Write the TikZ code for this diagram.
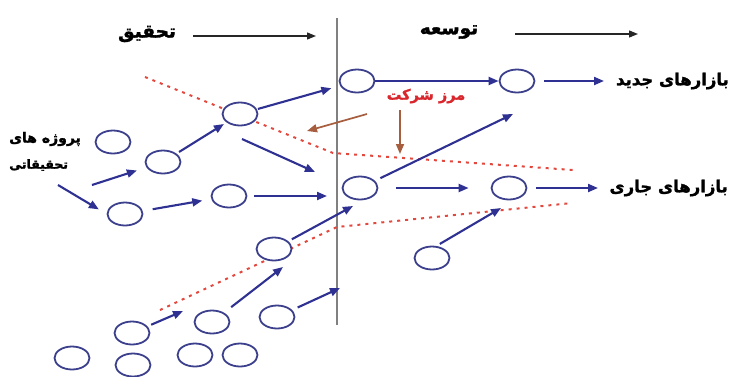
\documentclass[tikz,border=0pt]{standalone}
\usepackage{fontspec}
\TeXXeTstate=1
\newfontfamily\fa[Script=Arabic,FakeBold=1.6]{DejaVu Sans Bold}
\usetikzlibrary{arrows.meta,shapes.geometric}
\definecolor{navy}{HTML}{2E3192}
\definecolor{ringc}{HTML}{3B3F8C}
\definecolor{dotred}{HTML}{E2483E}
\definecolor{marzred}{HTML}{D8282E}
\definecolor{brownc}{HTML}{A65E3E}
\definecolor{axisgray}{HTML}{808080}
\tikzset{
  blob/.style={draw=ringc, line width=1.8pt, ellipse, minimum width=35pt, minimum height=23pt, inner sep=0pt, fill=white},
  barrow/.style={draw=navy, line width=2.1pt, -{Triangle[length=10pt,width=8pt]}},
  brarrow/.style={draw=brownc, line width=1.7pt, -{Triangle[length=10pt,width=8pt]}},
  harrow/.style={draw=black!85, line width=1.3pt, -{Triangle[length=9pt,width=7pt]}},
  bound/.style={draw=dotred, line width=2pt, dash pattern=on 3pt off 5pt},
  lbl/.style={font=\fa\fontsize{16.5}{18}\selectfont, inner sep=0pt, text=black},
  ttl/.style={font=\fa\fontsize{18.5}{20}\selectfont, inner sep=0pt, text=black},
}
\begin{document}
\begin{tikzpicture}[x=1pt,y=-1pt]
\useasboundingbox (0,0) rectangle (730,376);
% vertical divider
\coordinate (vtop) at (337,18);
\coordinate (vbot) at (337,325);
\draw[draw=axisgray, line width=1.6pt] (vtop) -- (vbot);

% red dotted boundaries
\draw[bound] (145,77) -- (333,153) -- (573,170);
\draw[bound] (160,310) -- (337,227) -- (572,203);

% circles
\node[blob] (C1) at (113,142) {};
\node[blob] (C2) at (163,162) {};
\node[blob] (C3) at (240,114) {};
\node[blob] (C4) at (125,214) {};
\node[blob] (C5) at (229,196) {};
\node[blob] (C6) at (357,81) {};
\node[blob] (C7) at (517,81) {};
\node[blob] (C8) at (360,188) {};
\node[blob] (C9) at (509,188) {};
\node[blob] (C10) at (274,249) {};
\node[blob] (C11) at (432,258) {};
\node[blob] (C12) at (132,333) {};
\node[blob] (C13) at (212,322) {};
\node[blob] (C14) at (277,317) {};
\node[blob] (C15) at (72,358) {};
\node[blob] (C16) at (133,365) {};
\node[blob] (C17) at (195,355) {};
\node[blob] (C18) at (240,355) {};

% texts
\node[ttl] (tTah) at (147,34) {\beginR تحقیق\endR};
\node[ttl] (tTos) at (449,32) {\beginR توسعه\endR};
\node[lbl, anchor=east] (tNew) at (729,81) {\beginR بازارهای جدید\endR};
\node[lbl, anchor=east] (tCur) at (728,188) {\beginR بازارهای جاری\endR};
\node[lbl, text=marzred, font=\fa\fontsize{14.5}{16}\selectfont] (tMarz) at (426,96) {\beginR مرز شرکت\endR};
\node[lbl, anchor=west, font=\fa\fontsize{14}{16}\selectfont] (tProj1) at (9,139) {\beginR پروژه های\endR};
\node[lbl, anchor=west, font=\fa\fontsize{12.5}{15}\selectfont] (tProj2) at (9,165) {\beginR تحقیقاتی\endR};

% header arrows
\coordinate (h0) at (193,36);
\coordinate (h1) at (316,36);
\coordinate (h2) at (515,34);
\coordinate (h3) at (638,34);
\draw[harrow] (h0) -- (h1);
\draw[harrow] (h2) -- (h3);

% free ends
\coordinate (p1) at (58,185);
\coordinate (p3) at (92,185);
\coordinate (q0) at (242,139);
\coordinate (q1) at (315,172);
\coordinate (r1) at (327,196);
\coordinate (s1) at (183,311);
\coordinate (t1) at (283,267);
\coordinate (u1) at (340,288);
\coordinate (v1) at (604,81);
\coordinate (w1) at (513,114);
\coordinate (x1) at (598,188);
\coordinate (y1) at (501,208);
\coordinate (z1) at (353,206);

% blue arrows
\draw[barrow, shorten >=9pt] (p1) -- (C4.west);
\draw[barrow, shorten >=10pt] (p3) -- (C2);
\draw[barrow, shorten <=3pt, shorten >=3pt] (C2) -- (C3);
\draw[barrow, shorten <=1pt, shorten >=9pt] (C3) -- (C6);
\draw[barrow] (q0) -- (q1);
\draw[barrow, shorten <=10pt, shorten >=9pt] (C4) -- (C5);
\draw[barrow, shorten <=7pt] (C5) -- (r1);
\draw[barrow, shorten <=4pt] (C10) -- (z1);
\draw[barrow, shorten <=4pt] (C12) -- (s1);
\draw[barrow, shorten <=9pt] (C13) -- (t1);
\draw[barrow, shorten <=6pt] (C14) -- (u1);
\draw[barrow] (C6) -- (C7);
\draw[barrow, shorten <=9pt] (C7) -- (v1);
\draw[barrow, shorten <=6pt] (C8) -- (w1);
\draw[barrow, shorten <=18pt, shorten >=22pt] (C8) -- (C9);
\draw[barrow, shorten <=9pt] (C9) -- (x1);
\draw[barrow, shorten <=4pt] (C11.70) -- (y1);

% brown arrows (company boundary)
\coordinate (b0) at (367,114);
\coordinate (b1) at (307,131);
\coordinate (b2) at (400,110);
\coordinate (b3) at (400,154);
\draw[brarrow] (b0) -- (b1);
\draw[brarrow] (b2) -- (b3);
\end{tikzpicture}
\end{document}
